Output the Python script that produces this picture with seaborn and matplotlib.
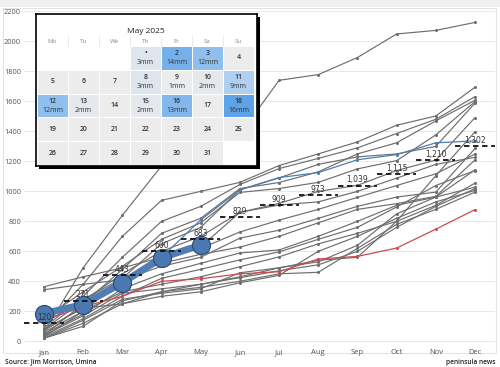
import numpy as np
import pandas as pd
import seaborn as sns
import matplotlib.pyplot as plt
from matplotlib.patches import Rectangle
from matplotlib.colors import LinearSegmentedColormap

months = ['Jan', 'Feb', 'Mar', 'Apr', 'May', 'Jun', 'Jul', 'Aug', 'Sep', 'Oct', 'Nov', 'Dec']

# cumulative rainfall (mm) of past years
grey_years = [
    [60, 490, 840, 1170, 1290, 1380, 1741, 1779, 1893, 2050, 2074, 2127],
    [110, 380, 700, 940, 1000, 1060, 1172, 1250, 1330, 1441, 1503, 1695],
    [90, 300, 560, 800, 900, 1046, 1152, 1220, 1290, 1386, 1481, 1632],
    [40, 250, 480, 720, 820, 1019, 1059, 1130, 1250, 1324, 1470, 1608],
    [150, 330, 500, 680, 790, 993, 1019, 1060, 1150, 1205, 1377, 1599],
    [30, 200, 420, 650, 760, 1010, 1090, 1180, 1230, 1250, 1300, 1589],
    [80, 270, 450, 600, 700, 860, 920, 1000, 1040, 1139, 1209, 1492],
    [20, 120, 250, 330, 380, 430, 490, 540, 560, 801, 1105, 1397],
    [344, 380, 410, 500, 560, 688, 741, 820, 900, 962, 995, 1286],
    [364, 430, 490, 560, 620, 729, 808, 880, 960, 1039, 1117, 1249],
    [70, 230, 380, 540, 630, 860, 909, 930, 1000, 1088, 1180, 1227],
    [120, 280, 420, 520, 580, 628, 700, 790, 880, 918, 967, 1210],
    [50, 180, 350, 450, 520, 589, 609, 700, 800, 907, 962, 1143],
    [30, 150, 300, 420, 480, 543, 596, 680, 760, 896, 1039, 1139],
    [60, 200, 330, 380, 430, 497, 563, 650, 720, 800, 907, 1055],
    [20, 140, 280, 320, 350, 457, 490, 530, 640, 850, 962, 1028],
    [40, 170, 320, 350, 380, 424, 470, 510, 600, 760, 900, 1018],
    [80, 220, 250, 300, 330, 390, 440, 600, 700, 820, 930, 1006],
    [20, 100, 270, 330, 360, 400, 450, 460, 620, 780, 880, 995],
]
blue_year = [170, 250, 380, 560, 810, 1010, 1092, 1125, 1211, 1245, 1324, 1337]
red_year = [140, 230, 300, 400, 417, 450, 464, 549, 566, 622, 748, 878]
year_2025 = [185, 245, 390, 556, 642]
averages = [120, 271, 443, 600, 683, 829, 909, 973, 1039, 1115, 1210, 1302]

# May 2025 daily rain
may_rain = {1: 3, 2: 14, 3: 12, 8: 3, 9: 1, 10: 2, 11: 9, 12: 12, 13: 2, 15: 2, 16: 13, 18: 16}
weekdays = ['Mo', 'Tu', 'We', 'Th', 'Fr', 'Sa', 'Su']

sns.set_style("white")
plt.rcParams['font.family'] = ['Open Sans', 'DejaVu Sans']

W, H = 500, 367
fig = plt.figure(figsize=(5, 3.67), dpi=100)

# panel decoration
fig.add_artist(Rectangle((0, 1 - 7 / H), 1, 7 / H, transform=fig.transFigure,
                         facecolor='#f0f0f0', edgecolor='none', zorder=0))
fig.add_artist(Rectangle((3 / W, 1 - 353 / H), 493 / W, 345 / H, transform=fig.transFigure,
                         facecolor='none', edgecolor='#e4e4e4', lw=0.8, zorder=0))

ax = fig.add_axes([24.4 / W, 1 - 345 / H, 470.2 / W, 338 / H])
ax.set_zorder(0)
ax.patch.set_alpha(0)

idx = np.arange(12)
rows = []
for k, vals in enumerate(grey_years):
    for m, v in zip(idx, vals):
        rows.append({'month': m, 'rain': v, 'year': k})
df_grey = pd.DataFrame(rows)

sns.lineplot(data=df_grey, x='month', y='rain', units='year', estimator=None,
             color='#6e6e6e', lw=0.85, marker='o', markersize=2.2,
             markeredgewidth=0, ax=ax, zorder=2)
sns.lineplot(x=idx, y=blue_year, color='#4f7db0', lw=0.9, marker='o', markersize=2.2,
             markeredgewidth=0, ax=ax, zorder=3)
sns.lineplot(x=idx, y=red_year, color='#cc4b50', lw=0.9, marker='o', markersize=2.2,
             markeredgewidth=0, ax=ax, zorder=3)
sns.lineplot(x=idx[:5], y=year_2025, color='#4f7db4', lw=5, marker='o', markersize=13,
             markerfacecolor='#4a78b0', markeredgecolor='#2c4a70', markeredgewidth=0.8,
             ax=ax, zorder=4)

ax.hlines(averages, idx - 0.5, idx + 0.5, colors='#111111', lw=1.3,
          linestyles=(0, (3, 2)), zorder=5)
for m, a in zip(idx, averages):
    ax.text(m, a + 8, f"{a:,}", ha='center', va='bottom', fontsize=5.5,
            color='#333333', family='DejaVu Sans', zorder=6)

ax.set_xlim(-0.5, 11.5)
ax.set_ylim(-25, 2230)
ax.set_xticks(idx)
ax.set_xticklabels(months)
ax.set_yticks(range(0, 2201, 200))
ax.grid(axis='y', color='#e8e8e8', lw=0.7)
ax.set_axisbelow(True)
ax.tick_params(axis='y', labelsize=5.3, length=1.5, width=0.5, pad=1, color='#cccccc')
ax.tick_params(axis='x', labelsize=5.5, length=0, pad=3)
for lab in ax.get_yticklabels() + ax.get_xticklabels():
    lab.set_color('#555555')
ax.set_xlabel('')
ax.set_ylabel('')
for s in ax.spines.values():
    s.set_visible(False)

# calendar inset
bx, by, bw, bh = 36, 14, 221, 152
fig.add_artist(Rectangle(((bx + 3) / W, 1 - (by + bh + 3) / H), bw / W, bh / H,
                         transform=fig.transFigure, facecolor='black',
                         edgecolor='none', zorder=1))
box = fig.add_axes([bx / W, 1 - (by + bh) / H, bw / W, bh / H])
box.set_zorder(2)
box.set_facecolor('white')
box.set_xticks([])
box.set_yticks([])
for s in box.spines.values():
    s.set_color('black')
    s.set_linewidth(1.2)

cal = np.full((5, 7), np.nan)
first_col = 3
for d in range(1, 32):
    pos = first_col + d - 1
    cal[pos // 7, pos % 7] = may_rain.get(d, 0)

cmap = LinearSegmentedColormap.from_list(
    'rain', [(0, '#ececec'), (1 / 16, '#ebecee'), (3 / 16, '#dfe5ed'),
             (9 / 16, '#b0d0f2'), (12 / 16, '#8fbfee'), (1, '#5ea2e8')])

gax = fig.add_axes([37 / W, 1 - 165 / H, 217 / W, 119 / H])
gax.set_zorder(3)
sns.heatmap(cal, mask=np.isnan(cal), cmap=cmap, vmin=0, vmax=16, cbar=False,
            linewidths=0.6, linecolor='white', ax=gax)
gax.set_facecolor('white')
gax.set_xticks([])
gax.set_yticks([])

for d in range(1, 32):
    pos = first_col + d - 1
    r, c = pos // 7, pos % 7
    label = '•' if d == 1 else str(d)
    if d in may_rain:
        gax.text(c + 0.5, r + 0.33, label, ha='center', va='center', fontsize=5,
                 color='#333333', fontweight='semibold')
        gax.text(c + 0.5, r + 0.7, f"{may_rain[d]}mm", ha='center', va='center',
                 fontsize=5, color='#333333')
    else:
        gax.text(c + 0.5, r + 0.5, label, ha='center', va='center', fontsize=5,
                 color='#333333', fontweight='semibold')

for c, wd in enumerate(weekdays):
    gax.text(c + 0.5, -0.2, wd, ha='center', va='center', fontsize=4.5,
             color='#8a8a8a', clip_on=False)
for c in range(1, 7):
    gax.plot([c, c], [-0.42, 0], color='#e6e6e6', lw=0.6, clip_on=False)
gax.text(3.5, -0.63, 'May 2025', ha='center', va='center', fontsize=6,
         color='#222222', clip_on=False)

fig.text(5 / W, 1 - 362 / H, 'Source: Jim Morrison, Umina', ha='left', va='center',
         fontsize=4.8, color='#222222', fontweight='semibold')
fig.text(495 / W, 1 - 362 / H, 'peninsula news', ha='right', va='center',
         fontsize=4.8, color='#222222', fontweight='semibold')

fig.savefig('out.png', dpi=100)
